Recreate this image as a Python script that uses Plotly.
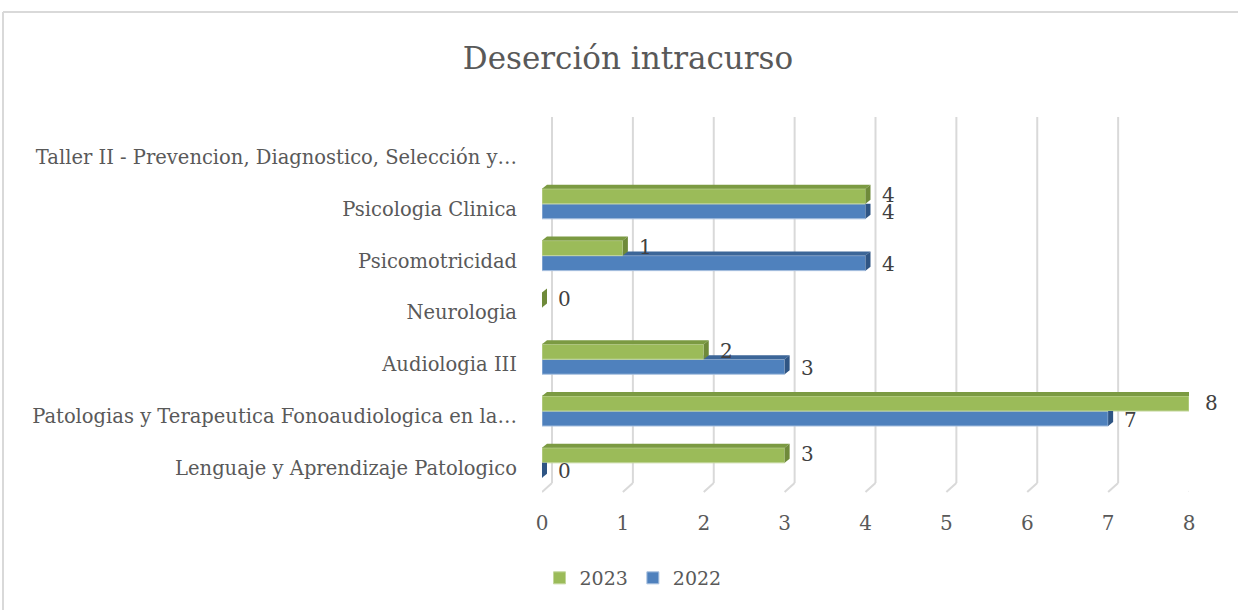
import plotly.graph_objects as go

categories = [
    "Lenguaje y Aprendizaje Patologico",
    "Patologias y Terapeutica Fonoaudiologica en la…",
    "Audiologia III",
    "Neurologia",
    "Psicomotricidad",
    "Psicologia Clinica",
    "Taller II - Prevencion, Diagnostico, Selección y…",
]
values_2023 = [3, 8, 2, 0, 1, 4, None]
values_2022 = [0, 7, 3, None, 4, 4, None]
x_ticks = [0, 1, 2, 3, 4, 5, 6, 7, 8]

GREEN, GREEN_TOP, GREEN_SIDE, GREEN_EDGE = "#9bbb59", "#7b9a42", "#6f8a3a", "#c3d69b"
BLUE, BLUE_TOP, BLUE_SIDE, BLUE_EDGE = "#4f81bd", "#3c6698", "#2f5584", "#a9c1df"
FONT = "DejaVu Serif"
TXT = "#404040"
LBL = "#595959"
GRID = "#d9d9d9"

# ---- geometry (pixels) ----
W, H = 1238, 610
L, R, T, B = 542, 49, 117, 118
pw, ph = W - L - R, H - T - B
X_MAX = 8
px_per_x = pw / X_MAX
px_per_cat = 51.8
y_lo = -(H - B - 468) / px_per_cat
y_hi = y_lo + ph / px_per_cat

BAR_W = 0.29          # front-face thickness in category units
JUNCTION = 0.10       # green/blue junction above the category tick
DX = 5 / px_per_x     # 3-D depth in x units
DY = 4 / px_per_cat   # 3-D depth in y units

idx = list(range(len(categories)))

def polys_to_xy(polys):
    xs, ys = [], []
    for p in polys:
        for (a, b) in p:
            xs.append(a); ys.append(b)
        xs.append(p[0][0]); ys.append(p[0][1])
        xs.append(None); ys.append(None)
    return xs, ys

def face_trace(polys, color):
    xs, ys = polys_to_xy(polys)
    return go.Scatter(x=xs, y=ys, mode="lines", fill="toself", fillcolor=color,
                      line=dict(width=0, color=color), hoverinfo="skip",
                      showlegend=False)

fig = go.Figure()

# front faces (bars)
fig.add_trace(go.Bar(
    y=idx, x=values_2022, name="2022", orientation="h",
    width=BAR_W, offset=JUNCTION - BAR_W,
    marker=dict(color=BLUE, line=dict(color=BLUE_EDGE, width=1)),
    legendrank=2, hoverinfo="x+name",
))
fig.add_trace(go.Bar(
    y=idx, x=values_2023, name="2023", orientation="h",
    width=BAR_W, offset=JUNCTION,
    marker=dict(color=GREEN, line=dict(color=GREEN_EDGE, width=1)),
    legendrank=1, hoverinfo="x+name",
))

# 3-D faces derived from the data
blue_top, blue_side, green_top, green_side = [], [], [], []
for i, b, g in zip(idx, values_2022, values_2023):
    y0 = i + JUNCTION - BAR_W
    y1 = i + JUNCTION
    y2 = y1 + BAR_W
    gv = 0 if g is None else g
    if b is not None:
        if g is None or b > gv:
            gl = max(gv, 0)
            blue_top.append([(gl, y1), (b, y1), (b + DX, y1 + DY), (max(gl, DX), y1 + DY),
                             (gl, y1 + min(gl / DX, 1) * DY)])
            blue_side.append([(b, y0), (b, y1), (b + DX, y1 + DY), (b + DX, y0 + DY)])
        else:
            blue_side.append([(b, y0), (b, y1), (b + DX, y1), (b + DX, y0 + DY)])
    if g is not None:
        green_top.append([(0, y2), (g, y2), (g + DX, y2 + DY), (DX, y2 + DY)])
        green_side.append([(g, y1), (g, y2), (g + DX, y2 + DY), (g + DX, y1 + DY)])

fig.add_trace(face_trace(blue_top, BLUE_TOP))
fig.add_trace(face_trace(blue_side, BLUE_SIDE))
fig.add_trace(face_trace(green_top, GREEN_TOP))
fig.add_trace(face_trace(green_side, GREEN_SIDE))

# data labels
annotations = []
for i, b, g in zip(idx, values_2022, values_2023):
    if b is not None:
        annotations.append(dict(x=b, y=i + JUNCTION - BAR_W / 2, text=str(b),
                                xanchor="left", yanchor="middle", xshift=14, yshift=-1,
                                showarrow=False,
                                font=dict(family=FONT, size=20, color=TXT)))
    if g is not None:
        annotations.append(dict(x=g, y=i + JUNCTION + BAR_W / 2, text=str(g),
                                xanchor="left", yanchor="middle", xshift=14, yshift=1,
                                showarrow=False,
                                font=dict(family=FONT, size=20, color=TXT)))

# back-wall gridlines with floor stubs
GRID_DX = 10
floor_paper = 9 / ph
shapes = []
for k in x_ticks:
    shapes.append(dict(type="line", xref="x", yref="paper", xsizemode="pixel", xanchor=k,
                       x0=GRID_DX, x1=GRID_DX, y0=floor_paper, y1=1,
                       line=dict(color=GRID, width=2), layer="below"))
    shapes.append(dict(type="line", xref="x", yref="paper", xsizemode="pixel", xanchor=k,
                       x0=0, x1=GRID_DX, y0=0, y1=floor_paper,
                       line=dict(color=GRID, width=2), layer="below"))

def px2paper_x(px):
    return (px - L) / pw

def px2paper_y(py):
    return (H - B - py) / ph

# chart-area border (top and left edges visible)
shapes.append(dict(type="line", xref="paper", yref="paper",
                   x0=px2paper_x(3), x1=px2paper_x(W + 5), y0=px2paper_y(12), y1=px2paper_y(12),
                   line=dict(color=GRID, width=2)))
shapes.append(dict(type="line", xref="paper", yref="paper",
                   x0=px2paper_x(3), x1=px2paper_x(3), y0=px2paper_y(12), y1=px2paper_y(H + 5),
                   line=dict(color=GRID, width=2)))

fig.update_layout(
    width=W, height=H,
    margin=dict(l=L, r=R, t=T, b=B),
    paper_bgcolor="white", plot_bgcolor="white",
    barmode="overlay",
    title=dict(text="Deserción intracurso", x=628 / W,
               xanchor="center", y=1 - 58 / H, yanchor="middle",
               font=dict(family=FONT, size=31, color=LBL)),
    xaxis=dict(range=[0, X_MAX], tickvals=x_ticks, showgrid=False,
               zeroline=False, showline=False, ticklabelstandoff=17,
               tickfont=dict(family=FONT, size=20, color=LBL), fixedrange=True),
    yaxis=dict(range=[y_lo, y_hi], tickvals=idx, ticktext=categories,
               showgrid=False, showline=False, zeroline=False,
               ticklabelstandoff=24, fixedrange=True,
               tickfont=dict(family=FONT, size=19.5, color=LBL)),
    legend=dict(orientation="h", x=px2paper_x(633), xanchor="center",
                y=px2paper_y(578), yanchor="middle",
                font=dict(family=FONT, size=19, color=LBL),
                itemwidth=30, traceorder="normal"),
    showlegend=True,
    shapes=shapes,
    annotations=annotations,
)

fig.write_html(
    "out.html",
    config={"displayModeBar": False},
    post_script="document.body.style.margin='0';document.body.style.overflow='hidden';"
                "window.dispatchEvent(new Event('resize'));",
)
